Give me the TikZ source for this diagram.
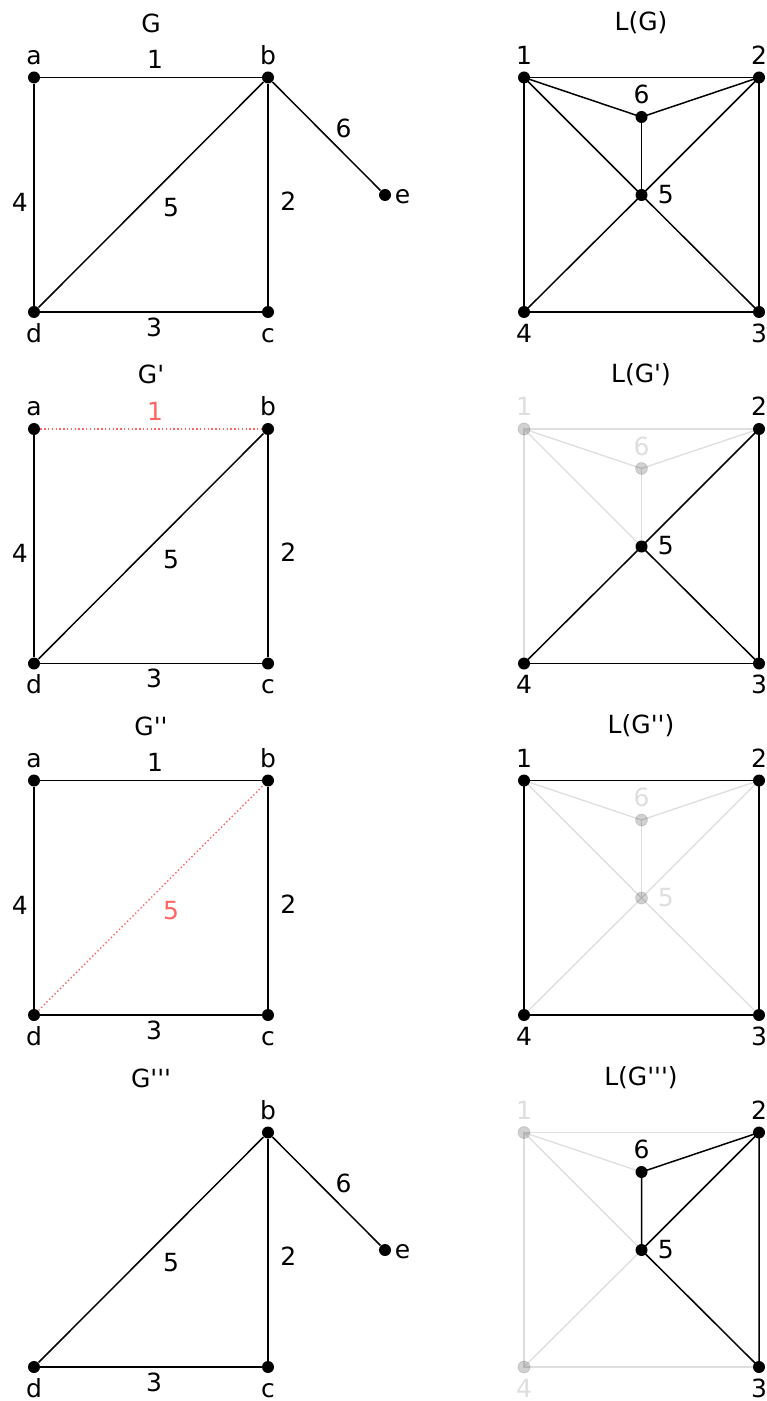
\documentclass[tikz,border=0pt]{standalone}
\usepackage{fontspec}
\setmainfont{DejaVu Sans}
\usepackage{tikz}
\usetikzlibrary{positioning, backgrounds}
\definecolor{fadegray}{RGB}{222,222,222}
\definecolor{cutred}{RGB}{255,100,100}
\newcommand{\pr}{\textquotesingle}
\tikzset{
  vtx/.style={circle, fill=black, inner sep=0pt, minimum size=6pt},
  fadedvtx/.style={circle, fill=black, fill opacity=0.18, draw=black, draw opacity=0.12,
    line width=0.4pt, inner sep=0pt, minimum size=6pt},
  vlbl/.style={inner sep=3.3pt, text height=8.4pt, text depth=0pt},
  fadedlbl/.style={vlbl, text=fadegray},
  link/.style={line width=0.75pt},
  fadedlink/.style={line width=0.65pt, draw=fadegray},
  cutlink/.style={line width=0.7pt, draw=cutred, dash pattern=on 0.7pt off 1.2pt},
  paneltitle/.style={}
}

\begin{document}
\begin{tikzpicture}[x=0.5pt, y=-0.5pt, font=\fontsize{12.5}{15}\selectfont]
  \useasboundingbox (0,0) rectangle (766,1401);

  % G and L(G)
  \node[paneltitle] (gtitle) at (151,23) {G};
  \node[vtx, label={[vlbl]above:a}] (ga) at (34,77.5) {};
  \node[vtx, label={[vlbl]above:b}] (gb) at (268,77.5) {};
  \node[vtx, label={[vlbl]below:c}] (gc) at (268,312) {};
  \node[vtx, label={[vlbl]below:d}] (gd) at (34,312) {};
  \node[vtx, label={[vlbl, label distance=-1.75pt]right:e}] (ge) at (385,195) {};
  \draw[link] (ga) -- node[above=0.8pt, xshift=2pt] {1} (gb);
  \draw[link] (gb) -- node[right=2.5pt, yshift=-3pt] {2} (gc);
  \draw[link] (gd) -- node[below=-0.8pt, xshift=1.5pt] {3} (gc);
  \draw[link] (ga) -- node[left=-0.6pt, yshift=-3.75pt] {4} (gd);
  \draw[link] (gd) -- node[xshift=10pt, yshift=-6.5pt] {5} (gb);
  \draw[link] (gb) -- node[xshift=8.5pt, yshift=4pt] {6} (ge);

  \node[paneltitle] (lgtitle) at (641,23) {L(G)};
  \node[vtx, label={[vlbl]above:1}] (lg1) at (524,77.5) {};
  \node[vtx, label={[vlbl]above:2}] (lg2) at (759,77.5) {};
  \node[vtx, label={[vlbl]below:3}] (lg3) at (759,312) {};
  \node[vtx, label={[vlbl]below:4}] (lg4) at (524,312) {};
  \node[vtx, label={[vlbl, label distance=1.5pt]right:5}] (lg5) at (641.5,195) {};
  \node[vtx, label={[vlbl]above:6}] (lg6) at (641.5,117) {};
  \begin{pgfonlayer}{background}
    \draw[link] (lg1.center) -- (lg2.center) -- (lg3.center) -- (lg4.center) -- (lg1.center);
    \draw[link] (lg1.center) -- (lg6.center) -- (lg2.center);
    \draw[link] (lg6.center) -- (lg5.center);
    \draw[link] (lg1.center) -- (lg5.center) -- (lg3.center);
    \draw[link] (lg4.center) -- (lg5.center) -- (lg2.center);
  \end{pgfonlayer}

  % G' and L(G')
  \begin{scope}[yshift=-175.75pt]
    \node[paneltitle] (ptitle) at (151,23) {G\pr};
    \node[vtx, label={[vlbl]above:a}] (pa) at (34,77.5) {};
    \node[vtx, label={[vlbl]above:b}] (pb) at (268,77.5) {};
    \node[vtx, label={[vlbl]below:c}] (pc) at (268,312) {};
    \node[vtx, label={[vlbl]below:d}] (pd) at (34,312) {};
    \draw[cutlink] (pa) -- node[above=0.8pt, xshift=2pt, text=cutred] {1} (pb);
    \draw[link] (pb) -- node[right=2.5pt, yshift=-3pt] {2} (pc);
    \draw[link] (pd) -- node[below=-0.8pt, xshift=1.5pt] {3} (pc);
    \draw[link] (pa) -- node[left=-0.6pt, yshift=-3.75pt] {4} (pd);
    \draw[link] (pd) -- node[xshift=10pt, yshift=-6.5pt] {5} (pb);

    \node[paneltitle] (lptitle) at (641,23) {L(G\pr)};
    \node[fadedvtx, label={[fadedlbl]above:1}] (lp1) at (524,77.5) {};
    \node[vtx, label={[vlbl]above:2}] (lp2) at (759,77.5) {};
    \node[vtx, label={[vlbl]below:3}] (lp3) at (759,312) {};
    \node[vtx, label={[vlbl]below:4}] (lp4) at (524,312) {};
    \node[vtx, label={[vlbl, label distance=1.5pt]right:5}] (lp5) at (641.5,195) {};
    \node[fadedvtx, label={[fadedlbl]above:6}] (lp6) at (641.5,117) {};
    \begin{pgfonlayer}{background}
      \draw[fadedlink] (lp4.center) -- (lp1.center) -- (lp2.center);
      \draw[fadedlink] (lp1.center) -- (lp6.center) -- (lp2.center);
      \draw[fadedlink] (lp6.center) -- (lp5.center);
      \draw[fadedlink] (lp1.center) -- (lp5.center);
      \draw[link] (lp2.center) -- (lp3.center) -- (lp4.center);
      \draw[link] (lp4.center) -- (lp5.center) -- (lp2.center);
      \draw[link] (lp5.center) -- (lp3.center);
    \end{pgfonlayer}
  \end{scope}

  % G'' and L(G'')
  \begin{scope}[yshift=-351.5pt]
    \node[paneltitle] (qtitle) at (151,23) {G\pr\pr};
    \node[vtx, label={[vlbl]above:a}] (qa) at (34,77.5) {};
    \node[vtx, label={[vlbl]above:b}] (qb) at (268,77.5) {};
    \node[vtx, label={[vlbl]below:c}] (qc) at (268,312) {};
    \node[vtx, label={[vlbl]below:d}] (qd) at (34,312) {};
    \draw[link] (qa) -- node[above=0.8pt, xshift=2pt] {1} (qb);
    \draw[link] (qb) -- node[right=2.5pt, yshift=-3pt] {2} (qc);
    \draw[link] (qd) -- node[below=-0.8pt, xshift=1.5pt] {3} (qc);
    \draw[link] (qa) -- node[left=-0.6pt, yshift=-3.75pt] {4} (qd);
    \draw[cutlink] (qd) -- node[xshift=10pt, yshift=-6.5pt, text=cutred] {5} (qb);

    \node[paneltitle] (lqtitle) at (641,23) {L(G\pr\pr)};
    \node[vtx, label={[vlbl]above:1}] (lq1) at (524,77.5) {};
    \node[vtx, label={[vlbl]above:2}] (lq2) at (759,77.5) {};
    \node[vtx, label={[vlbl]below:3}] (lq3) at (759,312) {};
    \node[vtx, label={[vlbl]below:4}] (lq4) at (524,312) {};
    \node[fadedvtx, label={[fadedlbl, label distance=1.5pt]right:5}] (lq5) at (641.5,195) {};
    \node[fadedvtx, label={[fadedlbl]above:6}] (lq6) at (641.5,117) {};
    \begin{pgfonlayer}{background}
      \draw[fadedlink] (lq1.center) -- (lq6.center) -- (lq2.center);
      \draw[fadedlink] (lq6.center) -- (lq5.center);
      \draw[fadedlink] (lq1.center) -- (lq5.center) -- (lq3.center);
      \draw[fadedlink] (lq4.center) -- (lq5.center) -- (lq2.center);
      \draw[link] (lq1.center) -- (lq2.center) -- (lq3.center) -- (lq4.center) -- (lq1.center);
    \end{pgfonlayer}
  \end{scope}

  % G''' and L(G''')
  \begin{scope}[yshift=-527.5pt]
    \node[paneltitle] (rtitle) at (151,23) {G\pr\pr\pr};
    \node[vtx, label={[vlbl]above:b}] (rb) at (268,77.5) {};
    \node[vtx, label={[vlbl]below:c}] (rc) at (268,312) {};
    \node[vtx, label={[vlbl]below:d}] (rd) at (34,312) {};
    \node[vtx, label={[vlbl, label distance=-1.75pt]right:e}] (re) at (385,195) {};
    \draw[link] (rb) -- node[right=2.5pt, yshift=-3pt] {2} (rc);
    \draw[link] (rd) -- node[below=-0.8pt, xshift=1.5pt] {3} (rc);
    \draw[link] (rd) -- node[xshift=10pt, yshift=-6.5pt] {5} (rb);
    \draw[link] (rb) -- node[xshift=8.5pt, yshift=4pt] {6} (re);

    \node[paneltitle] (lrtitle) at (641,23) {L(G\pr\pr\pr)};
    \node[fadedvtx, label={[fadedlbl]above:1}] (lr1) at (524,77.5) {};
    \node[vtx, label={[vlbl]above:2}] (lr2) at (759,77.5) {};
    \node[vtx, label={[vlbl]below:3}] (lr3) at (759,312) {};
    \node[fadedvtx, label={[fadedlbl]below:4}] (lr4) at (524,312) {};
    \node[vtx, label={[vlbl, label distance=1.5pt]right:5}] (lr5) at (641.5,195) {};
    \node[vtx, label={[vlbl]above:6}] (lr6) at (641.5,117) {};
    \begin{pgfonlayer}{background}
      \draw[fadedlink] (lr3.center) -- (lr4.center) -- (lr1.center) -- (lr2.center);
      \draw[fadedlink] (lr1.center) -- (lr6.center);
      \draw[fadedlink] (lr1.center) -- (lr5.center);
      \draw[fadedlink] (lr4.center) -- (lr5.center);
      \draw[link] (lr6.center) -- (lr2.center) -- (lr3.center);
      \draw[link] (lr6.center) -- (lr5.center) -- (lr2.center);
      \draw[link] (lr5.center) -- (lr3.center);
    \end{pgfonlayer}
  \end{scope}
\end{tikzpicture}
\end{document}
